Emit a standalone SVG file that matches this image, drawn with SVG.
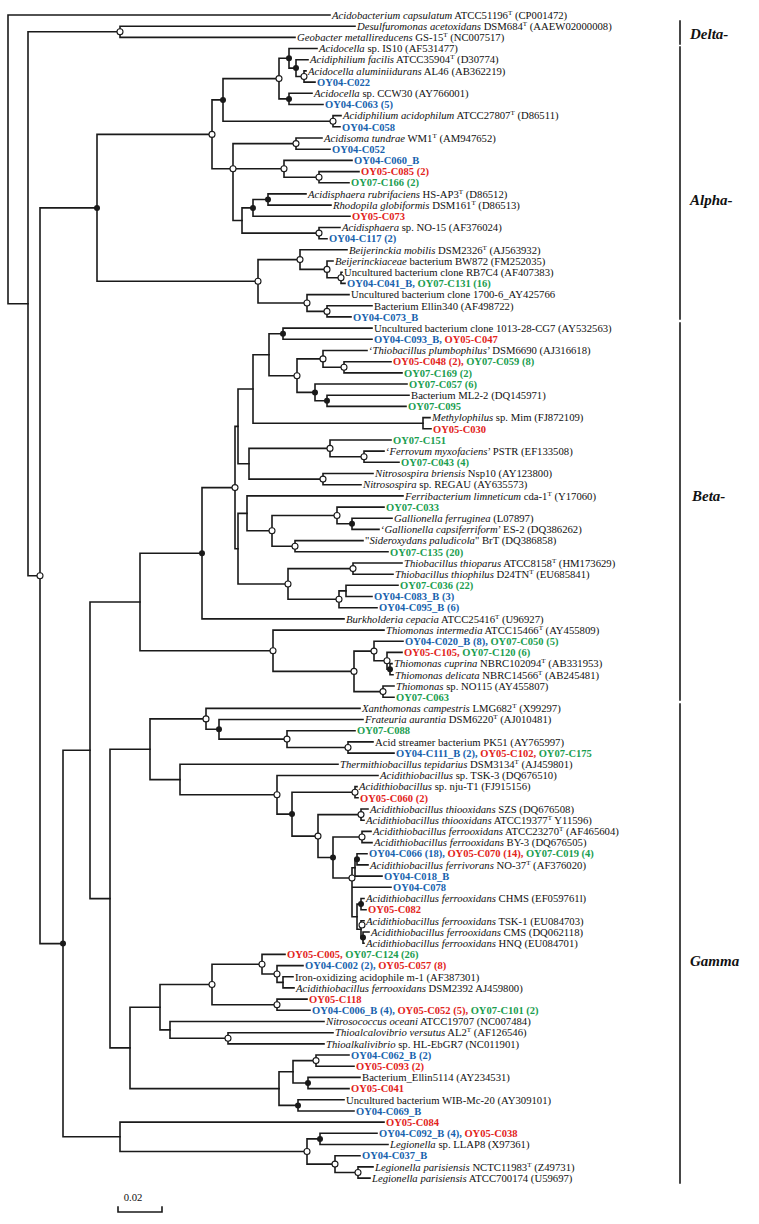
<svg xmlns="http://www.w3.org/2000/svg" width="759" height="1224" viewBox="0 0 759 1224">
<style>
.e{stroke:#1a1a1a;stroke-width:1.6;fill:none;stroke-linecap:square}
.t{font-family:"Liberation Serif","Times New Roman",serif;font-size:10.7px;fill:#111}
.k{font-family:"Liberation Serif","Times New Roman",serif;font-size:10.5px;font-weight:bold}
.i{font-style:italic}
.sp{font-size:7px}
.b{fill:#1762ad}.r{fill:#e2231a}.g{fill:#1a9d4f}
.o{fill:#fff;stroke:#1a1a1a;stroke-width:1.1}
.f{fill:#1a1a1a}
.cl{font-family:"Liberation Serif","Times New Roman",serif;font-size:15px;font-weight:bold;font-style:italic;fill:#111}
</style>
<rect width="759" height="1224" fill="#fff"/>
<g id="connectors" class="e">
<path d="M8,15V303.8M8,15H330M8,303.8H28"/>
<path d="M28,31.8V575.8M28,31.8H120M28,575.8H40"/>
<path d="M120,26.2V37.4M120,26.2H355M120,37.4H295"/>
<path d="M40,207.9V943.6M40,207.9H97M40,943.6H63"/>
<path d="M97,134.4V281.3M97,134.4H212M97,281.3H258"/>
<path d="M212,99.9V168.8M212,99.9H223M212,168.8H233"/>
<path d="M223,78.6V121.2M223,78.6H279M223,121.2H333"/>
<path d="M279,58.3V98.9M279,58.3H289M279,98.9H289"/>
<path d="M289,48.5V68.1M289,48.5H317M289,68.1H296"/>
<path d="M296,59.7V76.5M296,59.7H308M296,76.5H304"/>
<path d="M304,70.9V82.1M304,70.9H306M304,82.1H315"/>
<path d="M289,93.3V104.5M289,93.3H312M289,104.5H323"/>
<path d="M333,115.6V126.8M333,115.6H341M333,126.8H340"/>
<path d="M233,143.6V220.5M233,143.6H296M233,168.8H284M233,220.5H242"/>
<path d="M296,138V149.2M296,138H322M296,149.2H330"/>
<path d="M284,160.4V177.2M284,160.4H352M284,177.2H319"/>
<path d="M319,171.6V182.7M319,171.6H359M319,182.7H349"/>
<path d="M242,207.9V233.1M242,207.9H253M242,233.1H319"/>
<path d="M253,199.5V216.3M253,199.5H268M253,216.3H350"/>
<path d="M268,193.9V205.1M268,193.9H306M268,205.1H331"/>
<path d="M319,227.5V238.7M319,227.5H340M319,238.7H327"/>
<path d="M258,259.6V303M258,259.6H300M258,303H307"/>
<path d="M300,249.8V269.4M300,249.8H347M300,269.4H327"/>
<path d="M327,261V277.8M327,261H333M327,277.8H341"/>
<path d="M341,272.2V283.4M341,272.2H342M341,283.4H345"/>
<path d="M307,294.6V311.4M307,294.6H349M307,311.4H327"/>
<path d="M327,305.8V316.9M327,305.8H372M327,316.9H351"/>
<path d="M63,750.3V1136.8M63,750.3H90M63,1136.8H120"/>
<path d="M90,602V898.6M90,602H140M90,898.6H110"/>
<path d="M140,553.3V650.7M140,553.3H202M140,650.7H273"/>
<path d="M202,487.6V618.9M202,487.6H235M202,618.9H344"/>
<path d="M235,426.4V548.7M235,426.4H238M235,548.7H238"/>
<path d="M238,389V463.7M238,389H253M238,463.7H249"/>
<path d="M253,354.7V423.2M253,354.7H269M253,423.2H423"/>
<path d="M269,333.7V375.7M269,333.7H283M269,375.7H297"/>
<path d="M283,328.1V339.3M283,328.1H372M283,339.3H372"/>
<path d="M297,358.9V392.4M297,358.9H323M297,392.4H315"/>
<path d="M323,350.5V367.3M323,350.5H367M323,367.3H344"/>
<path d="M344,361.7V372.9M344,361.7H391M344,372.9H402"/>
<path d="M315,384V400.8M315,384H407M315,400.8H327"/>
<path d="M327,395.2V406.4M327,395.2H409M327,406.4H406"/>
<path d="M423,417.6V428.8M423,417.6H430M423,428.8H431"/>
<path d="M249,448.4V479.1M249,448.4H330M249,479.1H323"/>
<path d="M330,440V456.7M330,440H391M330,456.7H364"/>
<path d="M364,451.1V462.3M364,451.1H384M364,462.3H399"/>
<path d="M323,473.5V484.7M323,473.5H373M323,484.7H361"/>
<path d="M238,513.4V584M238,513.4H247M238,584H288"/>
<path d="M247,495.9V530.8M247,495.9H403M247,530.8H272"/>
<path d="M272,515.5V546.2M272,515.5H337M272,546.2H295"/>
<path d="M337,507.1V523.8M337,507.1H384M337,523.8H352"/>
<path d="M352,518.2V529.4M352,518.2H392M352,529.4H379"/>
<path d="M295,540.6V551.8M295,540.6H363M295,551.8H388"/>
<path d="M288,568.6V599.3M288,568.6H353M288,599.3H339"/>
<path d="M353,563V574.2M353,563H402M353,574.2H393"/>
<path d="M339,590.9V607.7M339,590.9H346M339,607.7H377"/>
<path d="M346,585.3V596.5M346,585.3H398M346,596.5H372"/>
<path d="M273,630.1V671.4M273,630.1H384M273,671.4H354"/>
<path d="M354,651.1V691.6M354,651.1H374M354,691.6H383"/>
<path d="M374,641.3V660.8M374,641.3H403M374,660.8H387"/>
<path d="M387,652.4V669.2M387,652.4H402M387,669.2H390"/>
<path d="M390,663.6V674.8M390,663.6H392M390,674.8H393"/>
<path d="M383,686V697.2M383,686H394M383,697.2H394"/>
<path d="M110,749.3V1047.9M110,749.3H150M110,1047.9H130"/>
<path d="M150,718.9V779.6M150,718.9H206M150,779.6H180"/>
<path d="M206,708.4V729.3M206,708.4H360M206,729.3H219"/>
<path d="M219,719.5V739.1M219,719.5H363M219,739.1H287"/>
<path d="M287,730.7V747.5M287,730.7H355M287,747.5H348"/>
<path d="M348,741.9V753.1M348,741.9H373M348,753.1H394"/>
<path d="M180,764.3V794.8M180,764.3H338M180,794.8H277"/>
<path d="M277,775.5V814.1M277,775.5H378M277,814.1H292"/>
<path d="M292,792.2V836.1M292,792.2H355M292,836.1H318"/>
<path d="M355,786.6V797.8M355,786.6H357M355,797.8H358"/>
<path d="M318,814.6V857.5M318,814.6H361M318,857.5H333"/>
<path d="M361,809V820.2M361,809H368M361,820.2H364"/>
<path d="M333,837V878M333,837H362M333,878H352"/>
<path d="M362,831.4V842.6M362,831.4H371M362,842.6H372"/>
<path d="M352,867.7V916.7M352,867.7H355M352,887.3H391M352,916.7H357"/>
<path d="M355,859.3V876.1M355,859.3H357M355,876.1H382"/>
<path d="M357,853.7V864.9M357,853.7H367M357,864.9H368"/>
<path d="M357,904.1V929.2M357,904.1H361M357,929.2H361"/>
<path d="M361,898.5V909.7M361,898.5H364M361,909.7H366"/>
<path d="M361,920.8V937.6M361,920.8H364M361,937.6H363"/>
<path d="M363,932V943.2M363,932H369M363,943.2H364"/>
<path d="M130,1007.2V1088.6M130,1007.2H160M130,1088.6H279"/>
<path d="M160,984.5V1029.9M160,984.5H212M160,1029.9H170"/>
<path d="M212,964.2V1004.7M212,964.2H262M212,1004.7H277"/>
<path d="M262,954.4V974M262,954.4H285M262,974H277"/>
<path d="M277,965.6V982.4M277,965.6H303M277,982.4H283"/>
<path d="M283,976.8V987.9M283,976.8H293M283,987.9H294"/>
<path d="M277,999.1V1010.3M277,999.1H307M277,1010.3H310"/>
<path d="M170,1021.5V1038.3M170,1021.5H324M170,1038.3H228"/>
<path d="M228,1032.7V1043.9M228,1032.7H333M228,1043.9H324"/>
<path d="M279,1071.8V1105.4M279,1071.8H293M279,1105.4H298"/>
<path d="M293,1060.6V1083M293,1060.6H316M293,1083H308"/>
<path d="M316,1055V1066.2M316,1055H349M316,1066.2H354"/>
<path d="M308,1077.4V1088.6M308,1077.4H360M308,1088.6H349"/>
<path d="M298,1099.8V1111M298,1099.8H344M298,1111H354"/>
<path d="M120,1122.1V1151.5M120,1122.1H384M120,1151.5H307"/>
<path d="M307,1138.9V1164.1M307,1138.9H320M307,1164.1H335"/>
<path d="M320,1133.3V1144.5M320,1133.3H377M320,1144.5H388"/>
<path d="M335,1155.7V1172.5M335,1155.7H360M335,1172.5H358"/>
<path d="M358,1166.9V1178.1M358,1166.9H373M358,1178.1H370"/>
</g>
<g id="internal-nodes">
<circle id="n-delta" class="o" cx="120" cy="31.8" r="3"/>
<circle id="n-R" class="o" cx="40" cy="575.8" r="3"/>
<circle id="n-alpha" class="f" cx="97" cy="207.9" r="3"/>
<circle id="n-a212" class="o" cx="212" cy="134.4" r="3"/>
<circle id="n-a223" class="f" cx="223" cy="99.9" r="3"/>
<circle id="n-a279" class="o" cx="279" cy="78.6" r="3"/>
<circle id="n-a289" class="f" cx="289" cy="58.3" r="3"/>
<circle id="n-a296" class="f" cx="296" cy="68.1" r="3"/>
<circle id="n-a304" class="o" cx="304" cy="76.5" r="3"/>
<circle id="n-accw" class="f" cx="289" cy="98.9" r="3"/>
<circle id="n-aacido" class="o" cx="333" cy="121.2" r="3"/>
<circle id="n-a233" class="o" cx="233" cy="168.8" r="3"/>
<circle id="n-atund" class="o" cx="296" cy="143.6" r="3"/>
<circle id="n-ac060" class="o" cx="284" cy="168.8" r="3"/>
<circle id="n-ac085" class="o" cx="319" cy="177.2" r="3"/>
<circle id="n-a253" class="f" cx="253" cy="207.9" r="3"/>
<circle id="n-arubri" class="f" cx="268" cy="199.5" r="3"/>
<circle id="n-ano15" class="o" cx="319" cy="233.1" r="3"/>
<circle id="n-a258" class="o" cx="258" cy="281.3" r="3"/>
<circle id="n-abeij" class="o" cx="300" cy="259.6" r="3"/>
<circle id="n-abw" class="o" cx="327" cy="269.4" r="3"/>
<circle id="n-arb7" class="o" cx="341" cy="277.8" r="3"/>
<circle id="n-a1700" class="o" cx="307" cy="303" r="3"/>
<circle id="n-aellin" class="o" cx="327" cy="311.4" r="3"/>
<circle id="n-S" class="f" cx="63" cy="943.6" r="3"/>
<circle id="n-b202" class="f" cx="202" cy="553.3" r="3"/>
<circle id="n-b235" class="o" cx="235" cy="487.6" r="3"/>
<circle id="n-b1013" class="f" cx="283" cy="333.7" r="3"/>
<circle id="n-b297" class="o" cx="297" cy="375.7" r="3"/>
<circle id="n-bplumb" class="o" cx="323" cy="358.9" r="3"/>
<circle id="n-bc048" class="o" cx="344" cy="367.3" r="3"/>
<circle id="n-bc057" class="f" cx="315" cy="392.4" r="3"/>
<circle id="n-bml" class="f" cx="327" cy="400.8" r="3"/>
<circle id="n-bc151" class="o" cx="330" cy="448.4" r="3"/>
<circle id="n-bferr" class="o" cx="364" cy="456.7" r="3"/>
<circle id="n-bnitro" class="o" cx="323" cy="479.1" r="3"/>
<circle id="n-b272" class="o" cx="272" cy="530.8" r="3"/>
<circle id="n-bc033" class="o" cx="337" cy="515.5" r="3"/>
<circle id="n-bgall" class="f" cx="352" cy="523.8" r="3"/>
<circle id="n-bsider" class="o" cx="295" cy="546.2" r="3"/>
<circle id="n-b288" class="o" cx="288" cy="584" r="3"/>
<circle id="n-bthiop" class="o" cx="353" cy="568.6" r="3"/>
<circle id="n-b339" class="o" cx="339" cy="599.3" r="3"/>
<circle id="n-b273" class="o" cx="273" cy="650.7" r="3"/>
<circle id="n-b354" class="o" cx="354" cy="671.4" r="3"/>
<circle id="n-bc020" class="o" cx="374" cy="651.1" r="3"/>
<circle id="n-bc105" class="o" cx="387" cy="660.8" r="3"/>
<circle id="n-bcupr" class="f" cx="390" cy="669.2" r="3"/>
<circle id="n-bno115" class="o" cx="383" cy="691.6" r="3"/>
<circle id="n-gxan" class="o" cx="206" cy="718.9" r="3"/>
<circle id="n-gfrat" class="f" cx="219" cy="729.3" r="3"/>
<circle id="n-gc088" class="o" cx="287" cy="739.1" r="3"/>
<circle id="n-gpk51" class="o" cx="348" cy="747.5" r="3"/>
<circle id="n-g277" class="o" cx="277" cy="794.8" r="3"/>
<circle id="n-g292" class="f" cx="292" cy="814.1" r="3"/>
<circle id="n-gnju" class="o" cx="355" cy="792.2" r="3"/>
<circle id="n-g318" class="o" cx="318" cy="836.1" r="3"/>
<circle id="n-gszs" class="o" cx="361" cy="814.6" r="3"/>
<circle id="n-g333" class="f" cx="333" cy="857.5" r="3"/>
<circle id="n-g23270" class="o" cx="362" cy="837" r="3"/>
<circle id="n-g352" class="o" cx="352" cy="878" r="3"/>
<circle id="n-gc066" class="f" cx="357" cy="859.3" r="3"/>
<circle id="n-gchms" class="f" cx="361" cy="904.1" r="3"/>
<circle id="n-gtsk1" class="o" cx="362" cy="925" r="3"/>
<circle id="n-gcms" class="f" cx="363" cy="937.6" r="3"/>
<circle id="n-gc005" class="o" cx="262" cy="964.2" r="3"/>
<circle id="n-gc002" class="o" cx="277" cy="974" r="3"/>
<circle id="n-g212" class="o" cx="212" cy="984.5" r="3"/>
<circle id="n-gc118" class="o" cx="277" cy="1004.7" r="3"/>
<circle id="n-gthio" class="o" cx="228" cy="1038.3" r="3"/>
<circle id="n-gc062" class="o" cx="316" cy="1060.6" r="3"/>
<circle id="n-gellin" class="f" cx="308" cy="1083" r="3"/>
<circle id="n-gwib" class="f" cx="298" cy="1105.4" r="3"/>
<circle id="n-gleg" class="o" cx="307" cy="1151.5" r="3"/>
<circle id="n-gc092" class="f" cx="320" cy="1138.9" r="3"/>
<circle id="n-gc037" class="o" cx="335" cy="1164.1" r="3"/>
<circle id="n-gparis" class="o" cx="358" cy="1172.5" r="3"/>
</g>
<g id="leaves">
<g id="leaf1"><text class="t" x="332" y="18.7"><tspan class="i">Acidobacterium capsulatum</tspan> ATCC51196<tspan class="sp" dy="-4">T</tspan><tspan dy="4"> (CP001472)</tspan></text></g>
<g id="leaf2"><text class="t" x="357" y="29.9"><tspan class="i">Desulfuromonas acetoxidans</tspan> DSM684<tspan class="sp" dy="-4">T</tspan><tspan dy="4"> (AAEW02000008)</tspan></text></g>
<g id="leaf3"><text class="t" x="297" y="41.1"><tspan class="i">Geobacter metallireducens</tspan> GS-15<tspan class="sp" dy="-4">T</tspan><tspan dy="4"> (NC007517)</tspan></text></g>
<g id="leaf4"><text class="t" x="319" y="52.2"><tspan class="i">Acidocella</tspan> sp. IS10 (AF531477)</text></g>
<g id="leaf5"><text class="t" x="310" y="63.4"><tspan class="i">Acidiphilium facilis</tspan> ATCC35904<tspan class="sp" dy="-4">T</tspan><tspan dy="4"> (D30774)</tspan></text></g>
<g id="leaf6"><text class="t" x="308" y="74.6"><tspan class="i">Acidocella aluminiidurans</tspan> AL46 (AB362219)</text></g>
<g id="leaf7"><text class="k b" x="317" y="85.8">OY04-C022</text></g>
<g id="leaf8"><text class="t" x="314" y="97"><tspan class="i">Acidocella</tspan> sp. CCW30 (AY766001)</text></g>
<g id="leaf9"><text class="k b" x="325" y="108.2">OY04-C063 (5)</text></g>
<g id="leaf10"><text class="t" x="343" y="119.3"><tspan class="i">Acidiphilium acidophilum</tspan> ATCC27807<tspan class="sp" dy="-4">T</tspan><tspan dy="4"> (D86511)</tspan></text></g>
<g id="leaf11"><text class="k b" x="342" y="130.5">OY04-C058</text></g>
<g id="leaf12"><text class="t" x="324" y="141.7"><tspan class="i">Acidisoma tundrae</tspan> WM1<tspan class="sp" dy="-4">T</tspan><tspan dy="4"> (AM947652)</tspan></text></g>
<g id="leaf13"><text class="k b" x="332" y="152.9">OY04-C052</text></g>
<g id="leaf14"><text class="k b" x="354" y="164.1">OY04-C060_B</text></g>
<g id="leaf15"><text class="k r" x="361" y="175.3">OY05-C085 (2)</text></g>
<g id="leaf16"><text class="k g" x="351" y="186.4">OY07-C166 (2)</text></g>
<g id="leaf17"><text class="t" x="308" y="197.6"><tspan class="i">Acidisphaera rubrifaciens</tspan> HS-AP3<tspan class="sp" dy="-4">T</tspan><tspan dy="4"> (D86512)</tspan></text></g>
<g id="leaf18"><text class="t" x="333" y="208.8"><tspan class="i">Rhodopila globiformis</tspan> DSM161<tspan class="sp" dy="-4">T</tspan><tspan dy="4"> (D86513)</tspan></text></g>
<g id="leaf19"><text class="k r" x="352" y="220">OY05-C073</text></g>
<g id="leaf20"><text class="t" x="342" y="231.2"><tspan class="i">Acidisphaera</tspan> sp. NO-15 (AF376024)</text></g>
<g id="leaf21"><text class="k b" x="329" y="242.4">OY04-C117 (2)</text></g>
<g id="leaf22"><text class="t" x="349" y="253.5"><tspan class="i">Beijerinckia mobilis</tspan> DSM2326<tspan class="sp" dy="-4">T</tspan><tspan dy="4"> (AJ563932)</tspan></text></g>
<g id="leaf23"><text class="t" x="335" y="264.7"><tspan class="i">Beijerinckiaceae</tspan> bacterium BW872 (FM252035)</text></g>
<g id="leaf24"><text class="t" x="344" y="275.9">Uncultured bacterium clone RB7C4 (AF407383)</text></g>
<g id="leaf25"><text class="k" x="347" y="287.1"><tspan class="b">OY04-C041_B, </tspan><tspan class="g">OY07-C131 (16)</tspan></text></g>
<g id="leaf26"><text class="t" x="351" y="298.3">Uncultured bacterium clone 1700-6_AY425766</text></g>
<g id="leaf27"><text class="t" x="374" y="309.5">Bacterium Ellin340 (AF498722)</text></g>
<g id="leaf28"><text class="k b" x="353" y="320.6">OY04-C073_B</text></g>
<g id="leaf29"><text class="t" x="374" y="331.8">Uncultured bacterium clone 1013-28-CG7 (AY532563)</text></g>
<g id="leaf30"><text class="k" x="374" y="343"><tspan class="b">OY04-C093_B, </tspan><tspan class="r">OY05-C047</tspan></text></g>
<g id="leaf31"><text class="t" x="369" y="354.2">‘<tspan class="i">Thiobacillus plumbophilus</tspan>’ DSM6690 (AJ316618)</text></g>
<g id="leaf32"><text class="k" x="393" y="365.4"><tspan class="r">OY05-C048 (2), </tspan><tspan class="g">OY07-C059 (8)</tspan></text></g>
<g id="leaf33"><text class="k g" x="404" y="376.6">OY07-C169 (2)</text></g>
<g id="leaf34"><text class="k g" x="409" y="387.7">OY07-C057 (6)</text></g>
<g id="leaf35"><text class="t" x="411" y="398.9">Bacterium ML2-2 (DQ145971)</text></g>
<g id="leaf36"><text class="k g" x="408" y="410.1">OY07-C095</text></g>
<g id="leaf37"><text class="t" x="432" y="421.3"><tspan class="i">Methylophilus</tspan> sp. Mim (FJ872109)</text></g>
<g id="leaf38"><text class="k r" x="433" y="432.5">OY05-C030</text></g>
<g id="leaf39"><text class="k g" x="393" y="443.7">OY07-C151</text></g>
<g id="leaf40"><text class="t" x="386" y="454.8">‘<tspan class="i">Ferrovum myxofaciens</tspan>’ PSTR (EF133508)</text></g>
<g id="leaf41"><text class="k g" x="401" y="466">OY07-C043 (4)</text></g>
<g id="leaf42"><text class="t" x="375" y="477.2"><tspan class="i">Nitrosospira briensis</tspan> Nsp10 (AY123800)</text></g>
<g id="leaf43"><text class="t" x="363" y="488.4"><tspan class="i">Nitrosospira</tspan> sp. REGAU (AY635573)</text></g>
<g id="leaf44"><text class="t" x="405" y="499.6"><tspan class="i">Ferribacterium limneticum</tspan> cda-1<tspan class="sp" dy="-4">T</tspan><tspan dy="4"> (Y17060)</tspan></text></g>
<g id="leaf45"><text class="k g" x="386" y="510.8">OY07-C033</text></g>
<g id="leaf46"><text class="t" x="394" y="521.9"><tspan class="i">Gallionella ferruginea</tspan> (L07897)</text></g>
<g id="leaf47"><text class="t" x="381" y="533.1">‘<tspan class="i">Gallionella capsiferriform</tspan>’ ES-2 (DQ386262)</text></g>
<g id="leaf48"><text class="t" x="365" y="544.3">"<tspan class="i">Sideroxydans paludicola</tspan>" BrT (DQ386858)</text></g>
<g id="leaf49"><text class="k g" x="390" y="555.5">OY07-C135 (20)</text></g>
<g id="leaf50"><text class="t" x="404" y="566.7"><tspan class="i">Thiobacillus thioparus</tspan> ATCC8158<tspan class="sp" dy="-4">T</tspan><tspan dy="4"> (HM173629)</tspan></text></g>
<g id="leaf51"><text class="t" x="395" y="577.9"><tspan class="i">Thiobacillus thiophilus</tspan> D24TN<tspan class="sp" dy="-4">T</tspan><tspan dy="4"> (EU685841)</tspan></text></g>
<g id="leaf52"><text class="k g" x="400" y="589">OY07-C036 (22)</text></g>
<g id="leaf53"><text class="k b" x="374" y="600.2">OY04-C083_B (3)</text></g>
<g id="leaf54"><text class="k b" x="379" y="611.4">OY04-C095_B (6)</text></g>
<g id="leaf55"><text class="t" x="346" y="622.6"><tspan class="i">Burkholderia cepacia</tspan> ATCC25416<tspan class="sp" dy="-4">T</tspan><tspan dy="4"> (U96927)</tspan></text></g>
<g id="leaf56"><text class="t" x="386" y="633.8"><tspan class="i">Thiomonas intermedia</tspan> ATCC15466<tspan class="sp" dy="-4">T</tspan><tspan dy="4"> (AY455809)</tspan></text></g>
<g id="leaf57"><text class="k" x="405" y="645"><tspan class="b">OY04-C020_B (8), </tspan><tspan class="g">OY07-C050 (5)</tspan></text></g>
<g id="leaf58"><text class="k" x="404" y="656.1"><tspan class="r">OY05-C105, </tspan><tspan class="g">OY07-C120 (6)</tspan></text></g>
<g id="leaf59"><text class="t" x="394" y="667.3"><tspan class="i">Thiomonas cuprina</tspan> NBRC102094<tspan class="sp" dy="-4">T</tspan><tspan dy="4"> (AB331953)</tspan></text></g>
<g id="leaf60"><text class="t" x="395" y="678.5"><tspan class="i">Thiomonas delicata</tspan> NBRC14566<tspan class="sp" dy="-4">T</tspan><tspan dy="4"> (AB245481)</tspan></text></g>
<g id="leaf61"><text class="t" x="396" y="689.7"><tspan class="i">Thiomonas</tspan> sp. NO115 (AY455807)</text></g>
<g id="leaf62"><text class="k g" x="396" y="700.9">OY07-C063</text></g>
<g id="leaf63"><text class="t" x="362" y="712.1"><tspan class="i">Xanthomonas campestris</tspan> LMG682<tspan class="sp" dy="-4">T</tspan><tspan dy="4"> (X99297)</tspan></text></g>
<g id="leaf64"><text class="t" x="365" y="723.2"><tspan class="i">Frateuria aurantia</tspan> DSM6220<tspan class="sp" dy="-4">T</tspan><tspan dy="4"> (AJ010481)</tspan></text></g>
<g id="leaf65"><text class="k g" x="357" y="734.4">OY07-C088</text></g>
<g id="leaf66"><text class="t" x="375" y="745.6">Acid streamer bacterium PK51 (AY765997)</text></g>
<g id="leaf67"><text class="k" x="396" y="756.8"><tspan class="b">OY04-C111_B (2), </tspan><tspan class="r">OY05-C102, </tspan><tspan class="g">OY07-C175</tspan></text></g>
<g id="leaf68"><text class="t" x="340" y="768"><tspan class="i">Thermithiobacillus tepidarius</tspan> DSM3134<tspan class="sp" dy="-4">T</tspan><tspan dy="4"> (AJ459801)</tspan></text></g>
<g id="leaf69"><text class="t" x="380" y="779.2"><tspan class="i">Acidithiobacillus</tspan> sp. TSK-3 (DQ676510)</text></g>
<g id="leaf70"><text class="t" x="359" y="790.3"><tspan class="i">Acidithiobacillus</tspan> sp. nju-T1 (FJ915156)</text></g>
<g id="leaf71"><text class="k r" x="360" y="801.5">OY05-C060 (2)</text></g>
<g id="leaf72"><text class="t" x="370" y="812.7"><tspan class="i">Acidithiobacillus thiooxidans</tspan> SZS (DQ676508)</text></g>
<g id="leaf73"><text class="t" x="366" y="823.9"><tspan class="i">Acidithiobacillus thiooxidans</tspan> ATCC19377<tspan class="sp" dy="-4">T</tspan><tspan dy="4">  Y11596)</tspan></text></g>
<g id="leaf74"><text class="t" x="373" y="835.1"><tspan class="i">Acidithiobacillus ferrooxidans</tspan> ATCC23270<tspan class="sp" dy="-4">T</tspan><tspan dy="4"> (AF465604)</tspan></text></g>
<g id="leaf75"><text class="t" x="374" y="846.3"><tspan class="i">Acidithiobacillus ferrooxidans</tspan> BY-3 (DQ676505)</text></g>
<g id="leaf76"><text class="k" x="369" y="857.4"><tspan class="b">OY04-C066 (18), </tspan><tspan class="r">OY05-C070 (14), </tspan><tspan class="g">OY07-C019 (4)</tspan></text></g>
<g id="leaf77"><text class="t" x="370" y="868.6"><tspan class="i">Acidithiobacillus ferrivorans</tspan> NO-37<tspan class="sp" dy="-4">T</tspan><tspan dy="4"> (AF376020)</tspan></text></g>
<g id="leaf78"><text class="k b" x="384" y="879.8">OY04-C018_B</text></g>
<g id="leaf79"><text class="k b" x="393" y="891">OY04-C078</text></g>
<g id="leaf80"><text class="t" x="366" y="902.2"><tspan class="i">Acidithiobacillus ferrooxidans</tspan> CHMS (EF059761l)</text></g>
<g id="leaf81"><text class="k r" x="368" y="913.4">OY05-C082</text></g>
<g id="leaf82"><text class="t" x="366" y="924.5"><tspan class="i">Acidithiobacillus ferrooxidans</tspan> TSK-1 (EU084703)</text></g>
<g id="leaf83"><text class="t" x="371" y="935.7"><tspan class="i">Acidithiobacillus ferrooxidans</tspan> CMS (DQ062118)</text></g>
<g id="leaf84"><text class="t" x="366" y="946.9"><tspan class="i">Acidithiobacillus ferrooxidans</tspan> HNQ (EU084701)</text></g>
<g id="leaf85"><text class="k" x="287" y="958.1"><tspan class="r">OY05-C005, </tspan><tspan class="g">OY07-C124 (26)</tspan></text></g>
<g id="leaf86"><text class="k" x="305" y="969.3"><tspan class="b">OY04-C002 (2), </tspan><tspan class="r">OY05-C057 (8)</tspan></text></g>
<g id="leaf87"><text class="t" x="295" y="980.5">Iron-oxidizing acidophile m-1 (AF387301)</text></g>
<g id="leaf88"><text class="t" x="296" y="991.6"><tspan class="i">Acidithiobacillus ferrooxidans</tspan> DSM2392  AJ459800)</text></g>
<g id="leaf89"><text class="k r" x="309" y="1002.8">OY05-C118</text></g>
<g id="leaf90"><text class="k" x="312" y="1014"><tspan class="b">OY04-C006_B (4), </tspan><tspan class="r">OY05-C052 (5), </tspan><tspan class="g">OY07-C101 (2)</tspan></text></g>
<g id="leaf91"><text class="t" x="326" y="1025.2"><tspan class="i">Nitrosococcus oceani</tspan> ATCC19707 (NC007484)</text></g>
<g id="leaf92"><text class="t" x="335" y="1036.4"><tspan class="i">Thioalcalovibrio versutus</tspan> AL2<tspan class="sp" dy="-4">T</tspan><tspan dy="4"> (AF126546)</tspan></text></g>
<g id="leaf93"><text class="t" x="326" y="1047.6"><tspan class="i">Thioalkalivibrio</tspan> sp. HL-EbGR7 (NC011901)</text></g>
<g id="leaf94"><text class="k b" x="351" y="1058.7">OY04-C062_B (2)</text></g>
<g id="leaf95"><text class="k r" x="356" y="1069.9">OY05-C093 (2)</text></g>
<g id="leaf96"><text class="t" x="362" y="1081.1">Bacterium_Ellin5114 (AY234531)</text></g>
<g id="leaf97"><text class="k r" x="351" y="1092.3">OY05-C041</text></g>
<g id="leaf98"><text class="t" x="346" y="1103.5">Uncultured bacterium  WIB-Mc-20 (AY309101)</text></g>
<g id="leaf99"><text class="k b" x="356" y="1114.7">OY04-C069_B</text></g>
<g id="leaf100"><text class="k r" x="386" y="1125.8">OY05-C084</text></g>
<g id="leaf101"><text class="k" x="379" y="1137"><tspan class="b">OY04-C092_B (4), </tspan><tspan class="r">OY05-C038</tspan></text></g>
<g id="leaf102"><text class="t" x="390" y="1148.2"><tspan class="i">Legionella</tspan> sp. LLAP8 (X97361)</text></g>
<g id="leaf103"><text class="k b" x="362" y="1159.4">OY04-C037_B</text></g>
<g id="leaf104"><text class="t" x="375" y="1170.6"><tspan class="i">Legionella parisiensis</tspan> NCTC11983<tspan class="sp" dy="-4">T</tspan><tspan dy="4"> (Z49731)</tspan></text></g>
<g id="leaf105"><text class="t" x="372" y="1181.8"><tspan class="i">Legionella parisiensis</tspan> ATCC700174 (U59697)</text></g>
</g>
<g id="clades">
<path class="e" d="M680,21V44M680,47V319M680,323V700M680,704V1183"/>
<text class="cl" x="690" y="39">Delta-</text>
<text class="cl" x="690" y="205">Alpha-</text>
<text class="cl" x="692" y="501">Beta-</text>
<text class="cl" x="690" y="966">Gamma</text>
</g>
<g id="scale">
<path class="e" d="M118,1207V1212H162V1207"/>
<text class="t" x="133" y="1201" text-anchor="middle" font-size="11">0.02</text>
</g>
</svg>
